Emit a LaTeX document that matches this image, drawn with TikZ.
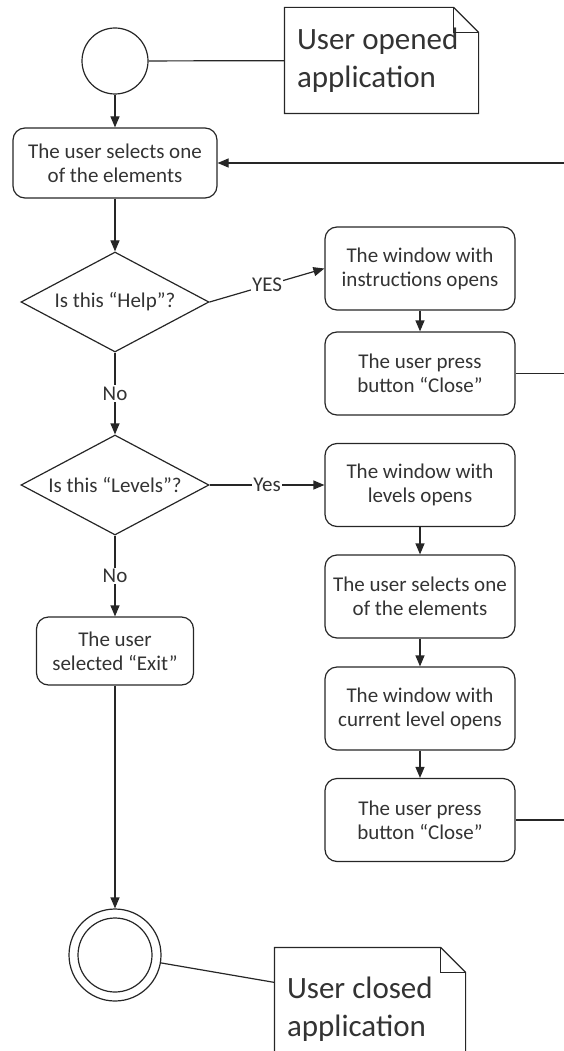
\documentclass[tikz,border=0pt]{standalone}
\usepackage{fontspec}
\setmainfont{Carlito}
\usetikzlibrary{shapes.geometric,arrows.meta,positioning}

\begin{document}
\begin{tikzpicture}[x=1pt,y=-1pt,line width=1.2pt,
    every node/.style={text=black!80,font=\fontsize{21}{24}\selectfont},
    actbox/.style={draw=black!85,rounded corners=12pt,align=center,minimum width=190pt,minimum height=83pt,inner sep=2pt},
    decision/.style={draw=black!85,diamond,aspect=1.88,minimum width=188pt,minimum height=100pt,inner sep=0pt},
    flow/.style={draw=black!85,-{Triangle[length=11pt,width=9pt]}},
    lbl/.style={fill=white,inner sep=1.5pt},
    notebox/.style={align=flush left,inner xsep=12pt,inner ysep=0pt,minimum height=105pt,font=\fontsize{31}{38}\selectfont},
    initnode/.style={circle,draw=black!85,inner sep=0pt,minimum size=66pt},
    finalnode/.style={circle,draw=black!85,inner sep=0pt,minimum size=92pt}]

\useasboundingbox (0,0) rectangle (563,1051);

% start
\node[initnode] (start) at (115,61) {};
\node[notebox,text width=169pt] (noteopen) at (381.5,60.5) {User opened\\application};

% left column
\node[actbox,minimum width=204pt,minimum height=70pt] (select) at (115,163) {The user selects one\\of the elements};
\node[decision] (help) at (115,302) {Is this “Help”?};
\node[decision] (levels) at (115,485) {Is this “Levels”?};
\node[actbox,minimum width=157pt,minimum height=68pt] (exit) at (115,651) {The user\\selected “Exit”};

% right column
\node[actbox] (instr) at (420,268.5) {The window with\\instructions opens};
\node[actbox] (close1) at (420,373.5) {The user press\\button “Close”};
\node[actbox] (lvlopen) at (420,485) {The window with\\levels opens};
\node[actbox] (select2) at (420,596.5) {The user selects one\\of the elements};
\node[actbox] (current) at (420,708.5) {The window with\\current level opens};
\node[actbox] (close2) at (420,820) {The user press\\button “Close”};

% end
\node[finalnode] (finish) at (115,955) {};
\draw[black!85] (finish.center) circle[radius=37];
\node[notebox,text width=166pt,minimum height=122pt] (noteclose) at (370,1009) {User closed\\application};

% note outlines with folded corner
\foreach \n in {noteopen,noteclose}
{
    \draw[black!85] ([xshift=-25pt]\n.north east) -- (\n.north west) -- (\n.south west)
        -- (\n.south east) -- ([yshift=-25pt]\n.north east) -- cycle;
    \draw[black!85] ([xshift=-25pt]\n.north east) -- ([xshift=-25pt,yshift=-25pt]\n.north east)
        -- ([yshift=-25pt]\n.north east);
}

% connectors
\draw[black!85] (start) -- (noteopen);
\draw[flow] (start) -- (select);
\draw[flow] (select) -- (help);
\draw[flow] (help.east) -- node[lbl] {YES} (instr.west);
\draw[flow] (instr) -- (close1);
\draw[flow] (help) -- node[lbl] {No} (levels);
\draw[flow] (levels) -- node[lbl] {Yes} (lvlopen);
\draw[flow] (lvlopen) -- (select2);
\draw[flow] (select2) -- (current);
\draw[flow] (current) -- (close2);
\draw[flow] (levels) -- node[lbl] {No} (exit);
\draw[flow] (exit) -- (finish);
\draw[black!85] (finish) -- ([yshift=-35pt]noteclose.north west);

% back to the selection
\draw[flow] (close1.east) -- ++(60,0) |- (select.east);
\draw[black!85] (close2.east) -- ++(60,0) |- (close1.east);

\end{tikzpicture}
\end{document}
